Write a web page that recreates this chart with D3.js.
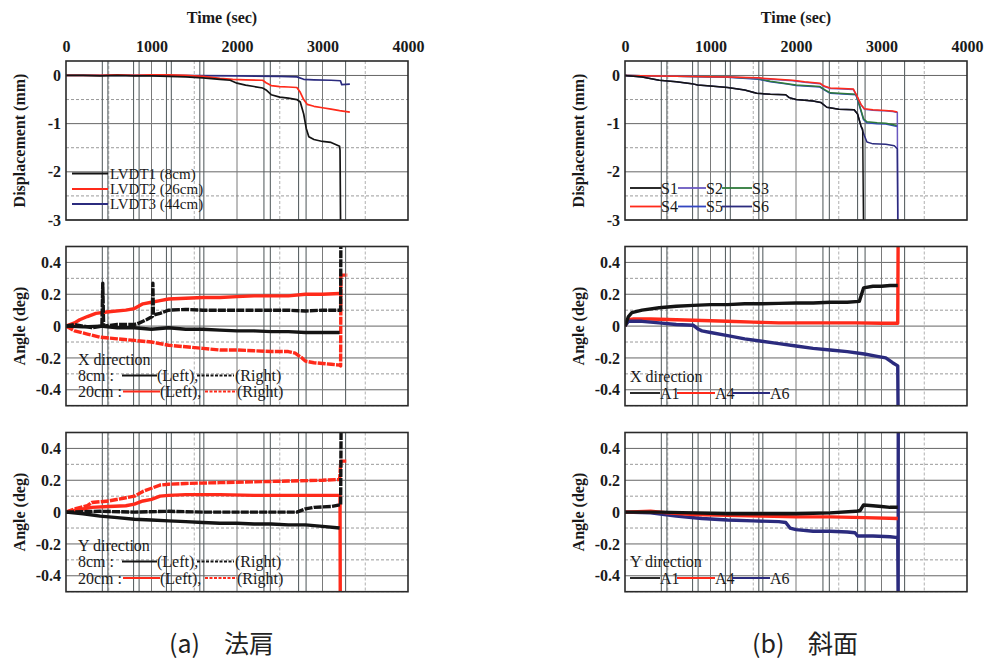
<!DOCTYPE html>
<html><head><meta charset="utf-8">
<script src="https://cdn.jsdelivr.net/npm/d3@7"></script>
<style>body{margin:0;background:#fff}</style>
</head><body><svg id="c" width="987" height="664"></svg>
<script>
// ---------- data ----------
const timeTicks = [0, 1000, 2000, 3000, 4000];
const dispTicks = [0, -1, -2, -3];
const angleTicks = [0.4, 0.2, 0, -0.2, -0.4];
const eventTimes = [425, 490, 790, 855, 1175, 1232, 1565, 1612, 2315, 2390, 2720, 2808, 3270];

// (a) displacement
const lvdt1 = [[0,0],[200,0],[400,-0.01],[600,0],[800,-0.01],[1000,-0.01],[1200,-0.02],[1400,-0.03],[1600,-0.05],[1800,-0.08],[1920,-0.1],[2000,-0.16],[2100,-0.2],[2200,-0.23],[2300,-0.26],[2340,-0.3],[2400,-0.4],[2500,-0.45],[2600,-0.47],[2700,-0.5],[2740,-0.55],[2780,-0.8],[2810,-1.1],[2840,-1.27],[2900,-1.33],[3000,-1.37],[3100,-1.39],[3200,-1.47],[3205,-1.55],[3212,-3.2]];
const lvdt2 = [[0,0],[200,0],[400,0],[600,0.01],[800,0],[1000,0.01],[1200,0.01],[1400,0],[1600,-0.02],[1700,-0.04],[1800,-0.06],[1950,-0.08],[2100,-0.09],[2300,-0.1],[2340,-0.15],[2400,-0.21],[2500,-0.23],[2600,-0.24],[2700,-0.25],[2740,-0.35],[2780,-0.5],[2820,-0.6],[2900,-0.64],[3000,-0.67],[3100,-0.7],[3200,-0.73],[3320,-0.76]];
const lvdt3 = [[0,0],[1000,0],[2000,-0.01],[2500,-0.02],[2700,-0.03],[2780,-0.08],[2900,-0.09],[3100,-0.1],[3210,-0.11],[3225,-0.19],[3320,-0.18]];

// (a) angle X direction
const aX8L  = [[0,0],[200,-0.005],[400,0],[600,-0.01],[800,-0.01],[1000,-0.02],[1200,-0.01],[1400,-0.02],[1600,-0.02],[1800,-0.025],[2000,-0.03],[2200,-0.03],[2400,-0.035],[2600,-0.035],[2800,-0.04],[3000,-0.04],[3200,-0.04]];
const aX8R  = [[0,0],[100,0.01],[200,0],[300,-0.01],[420,0],[430,0.27],[440,0],[600,0.01],[800,0.01],[860,0.02],[940,0.04],[1010,0.06],[1016,0.27],[1022,0.07],[1100,0.08],[1200,0.1],[1400,0.105],[1600,0.1],[1800,0.1],[2000,0.1],[2200,0.1],[2400,0.1],[2600,0.1],[2800,0.095],[3000,0.1],[3200,0.1],[3212,0.1],[3215,0.6]];
const aX20L = [[0,0],[100,0.02],[160,0.04],[250,0.06],[350,0.08],[500,0.09],[700,0.1],[800,0.11],[900,0.14],[1000,0.15],[1100,0.16],[1200,0.17],[1400,0.175],[1600,0.18],[1800,0.18],[2000,0.185],[2200,0.19],[2400,0.19],[2600,0.19],[2800,0.2],[3000,0.2],[3200,0.205]];
const aX20R = [[0,0],[100,-0.03],[250,-0.05],[400,-0.07],[600,-0.08],[800,-0.09],[1000,-0.1],[1200,-0.12],[1400,-0.13],[1600,-0.14],[1800,-0.15],[2000,-0.15],[2200,-0.155],[2400,-0.16],[2600,-0.16],[2680,-0.17],[2760,-0.2],[2800,-0.22],[2900,-0.23],[3000,-0.235],[3100,-0.24],[3200,-0.245],[3212,-0.25],[3215,0.32],[3290,0.32]];

// (a) angle Y direction
const aY8L  = [[0,0],[200,-0.01],[400,-0.025],[600,-0.035],[800,-0.045],[1000,-0.05],[1200,-0.055],[1400,-0.06],[1600,-0.065],[1800,-0.07],[2000,-0.07],[2200,-0.075],[2400,-0.075],[2600,-0.08],[2800,-0.08],[3000,-0.09],[3200,-0.1]];
const aY8R  = [[0,0],[400,0.005],[800,0],[1200,0.005],[1600,0],[2000,0],[2400,0],[2700,0],[2800,0.02],[2900,0.03],[3100,0.035],[3200,0.045],[3212,0.045],[3218,0.6]];
const aY20L = [[0,0],[100,0.01],[300,0.03],[500,0.035],[700,0.04],[800,0.05],[900,0.07],[1000,0.08],[1100,0.1],[1200,0.105],[1400,0.11],[1800,0.11],[2200,0.105],[2600,0.105],[3000,0.105],[3200,0.105],[3205,0.1],[3208,-0.6]];
const aY20R = [[0,0],[100,0.02],[250,0.04],[300,0.06],[500,0.07],[700,0.09],[800,0.1],[900,0.13],[1000,0.15],[1100,0.17],[1200,0.175],[1400,0.18],[1800,0.185],[2200,0.19],[2600,0.195],[3000,0.2],[3200,0.205],[3215,0.32],[3290,0.32]];

// (b) displacement
const s1 = [[0,0],[200,-0.03],[400,-0.1],[600,-0.13],[780,-0.17],[850,-0.2],[1000,-0.22],[1200,-0.25],[1400,-0.3],[1540,-0.37],[1700,-0.39],[1880,-0.4],[1920,-0.46],[2000,-0.5],[2200,-0.53],[2290,-0.56],[2360,-0.66],[2500,-0.7],[2680,-0.71],[2720,-0.8],[2760,-1.05],[2780,-1.12],[2790,-3.2]];
const s2 = [[0,0],[400,-0.01],[800,-0.02],[1200,-0.03],[1560,-0.06],[1700,-0.08],[1960,-0.11],[2100,-0.14],[2280,-0.17],[2330,-0.23],[2400,-0.27],[2550,-0.28],[2670,-0.29],[2720,-0.46],[2760,-0.61],[2800,-0.7],[2900,-0.72],[3000,-0.73],[3130,-0.75],[3185,-0.77],[3190,-3.2]];
const s3 = [[0,0],[400,-0.01],[800,-0.02],[1200,-0.03],[1560,-0.07],[1700,-0.12],[1900,-0.17],[2000,-0.2],[2280,-0.23],[2340,-0.3],[2400,-0.36],[2600,-0.38],[2700,-0.39],[2740,-0.6],[2790,-0.9],[2830,-0.96],[2950,-0.98],[3050,-0.99],[3185,-1.04]];
const s4 = [[0,0],[400,-0.01],[800,-0.02],[1200,-0.03],[1560,-0.05],[1700,-0.07],[1960,-0.1],[2100,-0.13],[2280,-0.16],[2330,-0.22],[2400,-0.26],[2550,-0.27],[2670,-0.28],[2720,-0.45],[2760,-0.6],[2800,-0.69],[2900,-0.71],[3000,-0.72],[3130,-0.74],[3185,-0.76]];
const s5 = [[0,0],[400,-0.01],[800,-0.02],[1200,-0.035],[1560,-0.08],[1700,-0.13],[1900,-0.18],[2000,-0.21],[2280,-0.24],[2340,-0.31],[2400,-0.37],[2600,-0.39],[2700,-0.4],[2740,-0.62],[2790,-0.92],[2830,-0.98],[2950,-1.0],[3050,-1.01],[3185,-1.06]];
const s6 = [[0,0],[200,-0.03],[400,-0.1],[600,-0.13],[780,-0.17],[850,-0.2],[1000,-0.22],[1200,-0.25],[1400,-0.3],[1540,-0.37],[1700,-0.39],[1880,-0.4],[1920,-0.46],[2000,-0.5],[2200,-0.53],[2290,-0.56],[2360,-0.66],[2500,-0.7],[2680,-0.71],[2720,-0.8],[2760,-1.05],[2800,-1.25],[2830,-1.38],[2900,-1.42],[3050,-1.43],[3150,-1.46],[3185,-1.52],[3192,-3.2]];

// (b) angle X direction
const bXA1 = [[0,0],[40,0.06],[80,0.085],[200,0.1],[400,0.115],[600,0.125],[800,0.13],[1000,0.135],[1200,0.135],[1400,0.14],[1600,0.14],[1800,0.143],[2000,0.145],[2200,0.145],[2400,0.15],[2600,0.15],[2740,0.155],[2790,0.24],[2900,0.25],[3000,0.25],[3100,0.255],[3190,0.255]];
const bXA4 = [[0,0],[40,0.04],[100,0.045],[300,0.045],[600,0.04],[900,0.035],[1200,0.03],[1500,0.025],[1800,0.02],[2100,0.02],[2400,0.02],[2700,0.02],[3000,0.018],[3190,0.018],[3195,0.6]];
const bXA6 = [[0,0],[40,0.03],[200,0.03],[400,0.02],[600,0.01],[800,0.005],[860,-0.02],[900,-0.03],[1000,-0.04],[1200,-0.06],[1400,-0.08],[1600,-0.095],[1800,-0.11],[2000,-0.125],[2200,-0.14],[2400,-0.15],[2600,-0.16],[2800,-0.175],[2950,-0.19],[3050,-0.2],[3130,-0.23],[3190,-0.25],[3195,-0.6]];

// (b) angle Y direction
const bYA1 = [[0,0],[400,0],[800,-0.005],[1200,-0.01],[1600,-0.01],[2000,-0.01],[2400,-0.005],[2700,0.005],[2750,0.01],[2790,0.045],[2900,0.04],[3000,0.035],[3100,0.03],[3190,0.03]];
const bYA4 = [[0,0],[300,0.005],[500,-0.005],[800,-0.015],[1200,-0.02],[1600,-0.025],[2000,-0.03],[2400,-0.03],[2800,-0.035],[3190,-0.04]];
const bYA6 = [[0,0],[300,-0.005],[600,-0.025],[900,-0.04],[1200,-0.05],[1500,-0.055],[1800,-0.06],[1880,-0.065],[1930,-0.1],[2000,-0.11],[2200,-0.12],[2400,-0.12],[2600,-0.125],[2690,-0.13],[2720,-0.15],[2900,-0.15],[3100,-0.155],[3190,-0.16],[3195,-0.6],[3196,0.6]];

const captionLabels = [["(a)", "法肩"], ["(b)", "斜面"]];

// ---------- drawing ----------
const C = {black:"#141414", red:"#ff2a1a", navy:"#2b2b7e", blue:"#3346c0", purple:"#6a58c0", green:"#2e7a3a"};
const SERIF = "Liberation Serif, Times New Roman, Times, serif";
const svg = d3.select("#c");
let clipId = 0;

function panel(o){
  const x = d3.scaleLinear().domain([0,4000]).range([o.x0,o.x1]);
  const y = d3.scaleLinear().domain(o.domain).range([o.y1,o.y0]);
  const g = svg.append("g");
  const isMajor = d => o.ticks.some(t=>Math.abs(t-d)<1e-6);
  const hs = d3.range(Math.ceil(o.domain[0]/o.step - 1e-9), Math.floor(o.domain[1]/o.step + 1e-9)+1).map(k=>+(k*o.step).toFixed(3));
  g.selectAll(null).data(hs).join("line")
    .attr("x1",o.x0).attr("x2",o.x1).attr("y1",d=>y(d)).attr("y2",d=>y(d))
    .attr("stroke", d=>isMajor(d) ? "#666" : "#9a9a9a")
    .attr("stroke-width",1)
    .attr("stroke-dasharray", d=>isMajor(d) ? null : "3,2");
  g.selectAll(null).data(d3.range(500,4000,500)).join("line")
    .attr("x1",d=>x(d)).attr("x2",d=>x(d)).attr("y1",o.y0).attr("y2",o.y1)
    .attr("stroke", d=> d%1000===0 ? "#7a7a7a" : "#b0b0b0").attr("stroke-width",1)
    .attr("stroke-dasharray", d=> d%1000===0 ? null : "3,2");
  g.selectAll(null).data(eventTimes).join("line")
    .attr("x1",d=>x(d)).attr("x2",d=>x(d)).attr("y1",o.y0).attr("y2",o.y1)
    .attr("stroke","#5c6466").attr("stroke-width",1.1);
  const id = "clip"+(clipId++);
  svg.append("clipPath").attr("id",id).append("rect")
    .attr("x",o.x0).attr("y",o.y0).attr("width",o.x1-o.x0).attr("height",o.y1-o.y0);
  const line = d3.line().x(d=>x(d[0])).y(d=>y(d[1]));
  const lg = g.append("g").attr("clip-path",`url(#${id})`);
  o.series.forEach(s=>{
    lg.append("path").attr("d",line(s.data)).attr("fill","none")
      .attr("stroke",s.color).attr("stroke-width",s.width||o.lw)
      .attr("stroke-linejoin","round")
      .attr("stroke-dasharray",s.dash?"8,1.2":null);
  });
  g.append("rect").attr("x",o.x0).attr("y",o.y0).attr("width",o.x1-o.x0).attr("height",o.y1-o.y0)
    .attr("fill","none").attr("stroke","#2a2a2a").attr("stroke-width",1.6);
  const ya = g.append("g").attr("transform",`translate(${o.x0-4},0)`)
    .call(d3.axisLeft(y).tickValues(o.ticks).tickSize(0).tickPadding(1).tickFormat(d=>String(d)));
  ya.attr("font-family",SERIF).attr("font-size",16);
  ya.select(".domain").remove();
  ya.selectAll("text").attr("font-family",SERIF).attr("font-size",16).attr("font-weight","bold").attr("fill","#1a1a1a");
  g.append("text").attr("transform",`translate(${o.x0-47},${(o.y0+o.y1)/2}) rotate(-90)`)
    .attr("text-anchor","middle").attr("dy","0.35em")
    .attr("font-family",SERIF).attr("font-size",16).attr("font-weight","bold").attr("fill","#1a1a1a")
    .text(o.ylabel);
  if(o.topAxis){
    const xa = g.append("g").attr("transform",`translate(0,${o.y0-9})`)
      .call(d3.axisTop(x).tickValues(timeTicks).tickSize(0).tickPadding(0).tickFormat(d=>String(d)));
    xa.attr("font-family",SERIF).attr("font-size",16);
    xa.select(".domain").remove();
    xa.selectAll("text").attr("font-family",SERIF).attr("font-size",16).attr("font-weight","bold").attr("fill","#1a1a1a");
    g.append("text").attr("x",o.titleX).attr("y",23).attr("text-anchor","middle")
      .attr("font-family",SERIF).attr("font-size",16).attr("font-weight","bold").attr("fill","#1a1a1a")
      .text("Time (sec)");
  }
  return g;
}

function legText(x,y,t,fs){
  svg.append("text").attr("x",x).attr("y",y).attr("dy","0.35em")
    .attr("font-family",SERIF).attr("font-size",fs||16).attr("fill","#1a1a1a").text(t);
}
function legLine(x1,x2,y,color,dash){
  svg.append("line").attr("x1",x1).attr("x2",x2).attr("y1",y).attr("y2",y)
    .attr("stroke",color).attr("stroke-width",1.8).attr("stroke-dasharray",dash?"3,1.5":null);
}

const L = {x0:66, x1:408}, R = {x0:625, x1:967};
const rows = {top:[61,220], mid:[246.5,405.7], bot:[432.5,591.7]};

// (a) top
panel({...L, y0:rows.top[0], y1:rows.top[1], domain:[-3,0.3], step:0.5, ticks:dispTicks, lw:1.7,
  ylabel:"Displacement (mm)", topAxis:true, titleX:222,
  series:[{data:lvdt3,color:C.navy},{data:lvdt2,color:C.red},{data:lvdt1,color:C.black}]});
legLine(72,108,173.5,C.black); legText(110,173.5,"LVDT1 (8cm)",15);
legLine(72,108,189,C.red);     legText(110,189,"LVDT2 (26cm)",15);
legLine(72,108,204,C.navy);    legText(110,204,"LVDT3 (44cm)",15);

// (a) mid
panel({...L, y0:rows.mid[0], y1:rows.mid[1], domain:[-0.5,0.5], step:0.1, ticks:angleTicks, lw:3.4,
  ylabel:"Angle (deg)",
  series:[{data:aX20R,color:C.red,dash:true},{data:aX20L,color:C.red},{data:aX8L,color:C.black},{data:aX8R,color:C.black,dash:true}]});
legText(78,359,"X direction");
legText(78,375.5,"8cm  :"); legLine(122,157,375.5,C.black); legText(157,375.5,"(Left),");
legLine(197,234,375.5,C.black,true); legText(235,375.5,"(Right)");
legText(78,391.5,"20cm :"); legLine(123,160,391.5,C.red); legText(160,391.5,"(Left),");
legLine(205,237,391.5,C.red,true); legText(237,391.5,"(Right)");

// (a) bottom
panel({...L, y0:rows.bot[0], y1:rows.bot[1], domain:[-0.5,0.5], step:0.1, ticks:angleTicks, lw:3.4,
  ylabel:"Angle (deg)",
  series:[{data:aY20L,color:C.red},{data:aY20R,color:C.red,dash:true},{data:aY8L,color:C.black},{data:aY8R,color:C.black,dash:true}]});
legText(78,545,"Y direction");
legText(78,561.5,"8cm  :"); legLine(122,157,561.5,C.black); legText(157,561.5,"(Left),");
legLine(197,234,561.5,C.black,true); legText(235,561.5,"(Right)");
legText(78,578,"20cm :"); legLine(123,160,578,C.red); legText(160,578,"(Left),");
legLine(205,237,578,C.red,true); legText(237,578,"(Right)");

// (b) top
panel({...R, y0:rows.top[0], y1:rows.top[1], domain:[-3,0.3], step:0.5, ticks:dispTicks, lw:1.5,
  ylabel:"Displacement (mm)", topAxis:true, titleX:796,
  series:[{data:s5,color:C.blue},{data:s3,color:C.green},{data:s2,color:C.purple},{data:s4,color:C.red},{data:s6,color:C.navy},{data:s1,color:C.black}]});
legLine(630,661,188,C.black);  legText(661,188,"S1");
legLine(678,706,188,C.purple); legText(706,188,"S2");
legLine(722,752,188,C.green);  legText(752,188,"S3");
legLine(630,661,206.5,C.red);  legText(661,206.5,"S4");
legLine(678,706,206.5,C.blue); legText(706,206.5,"S5");
legLine(722,752,206.5,C.navy); legText(752,206.5,"S6");

// (b) mid
panel({...R, y0:rows.mid[0], y1:rows.mid[1], domain:[-0.5,0.5], step:0.1, ticks:angleTicks, lw:3.4,
  ylabel:"Angle (deg)",
  series:[{data:bXA4,color:C.red},{data:bXA6,color:C.navy},{data:bXA1,color:C.black}]});
legText(630,376,"X direction");
legLine(630,660,393,C.black); legText(660,393,"A1");
legLine(677,715,393,C.red);   legText(715,393,"A4");
legLine(732,770,393,C.navy);  legText(770,393,"A6");

// (b) bottom
panel({...R, y0:rows.bot[0], y1:rows.bot[1], domain:[-0.5,0.5], step:0.1, ticks:angleTicks, lw:3.4,
  ylabel:"Angle (deg)",
  series:[{data:bYA6,color:C.navy},{data:bYA4,color:C.red},{data:bYA1,color:C.black}]});
legText(630,561.5,"Y direction");
legLine(630,660,578,C.black); legText(660,578,"A1");
legLine(677,715,578,C.red);   legText(715,578,"A4");
legLine(732,770,578,C.navy);  legText(770,578,"A6");

// captions
const capPos = [[169,224],[752,808]];
captionLabels.forEach((c,i)=>{
  svg.append("text").attr("x",capPos[i][0]).attr("y",653).attr("font-family","Noto Sans CJK JP, sans-serif")
    .attr("font-size",25).attr("fill","#222").text(c[0]);
  svg.append("text").attr("x",capPos[i][1]).attr("y",653).attr("font-family","Noto Sans CJK JP, sans-serif")
    .attr("font-size",25).attr("fill","#222").text(c[1]);
});
</script></body></html>
